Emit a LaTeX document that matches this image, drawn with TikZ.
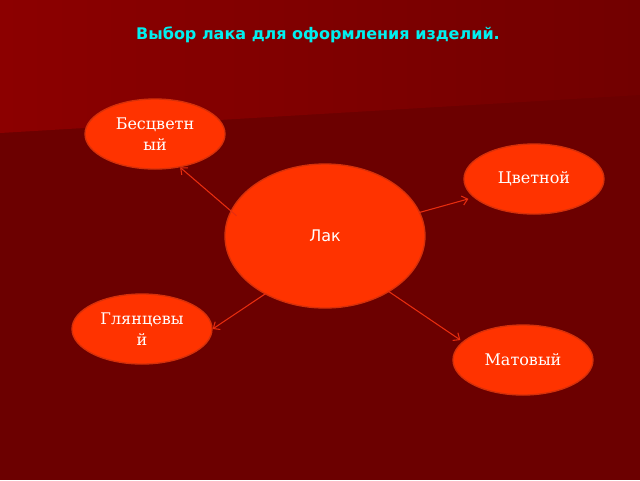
\documentclass[tikz,border=0pt]{standalone}
\usepackage{fontspec}
\setmainfont{DejaVu Serif}
\newfontfamily\sansf{DejaVu Sans}
\usetikzlibrary{shapes.geometric,arrows.meta}
\definecolor{bgdark}{RGB}{108,0,0}
\definecolor{bgleft}{RGB}{140,0,0}
\definecolor{bgright}{RGB}{114,0,0}
\definecolor{blob}{RGB}{255,51,0}
\definecolor{blobedge}{RGB}{214,48,10}
\definecolor{arrowred}{RGB}{232,45,15}
\definecolor{titlecyan}{RGB}{0,240,240}
\tikzset{
  blobnode/.style={ellipse, fill=blob, draw=blobedge, line width=1pt, inner sep=0pt},
  leaf/.style={blobnode, minimum width=105pt, minimum height=52.5pt, text=white, align=center,
    font=\fontsize{12}{15.75}\selectfont},
  hub/.style={blobnode, minimum width=150pt, minimum height=108pt, text=white,
    font=\sansf\fontsize{12}{14}\selectfont},
  conn/.style={draw=arrowred, line width=0.8pt, -{Straight Barb[length=4pt,width=7pt]}},
  titletext/.style={text=titlecyan, font=\sansf\bfseries\fontsize{12}{14}\selectfont}
}
\begin{document}
\begin{tikzpicture}[x=0.75pt,y=-0.75pt]
\fill[bgdark] (0,0) rectangle (640,480);
\shade[left color=bgleft, right color=bgright] (0,0) -- (640,0) -- (640,95) -- (0,133) -- cycle;
\useasboundingbox (0,0) rectangle (640,480);

\node[titletext] (title) at (318,35) {Выбор лака для оформления изделий.};

\node[hub] (lak) at (325,236) {Лак};
\node[leaf] (bes) at (155,134) {Бесцветн\\ый};
\node[leaf] (cvet) at (534,179) {Цветной};
\node[leaf] (glyan) at (142,329) {Глянцевы\\й};
\node[leaf] (mat) at (523,360) {Матовый};

\draw[conn, shorten <=-5.8pt] (lak.165.6) -- (bes.-53.4);
\draw[conn, shorten <=-1pt, shorten >=4pt] (lak.14) -- (cvet.197.1);
\draw[conn, shorten <=-1pt] (lak.224.5) -- (glyan.0.8);
\draw[conn, shorten <=-1.5pt, shorten >=2pt] (lak.-41.2) -- (mat.163.2);
\end{tikzpicture}
\end{document}
